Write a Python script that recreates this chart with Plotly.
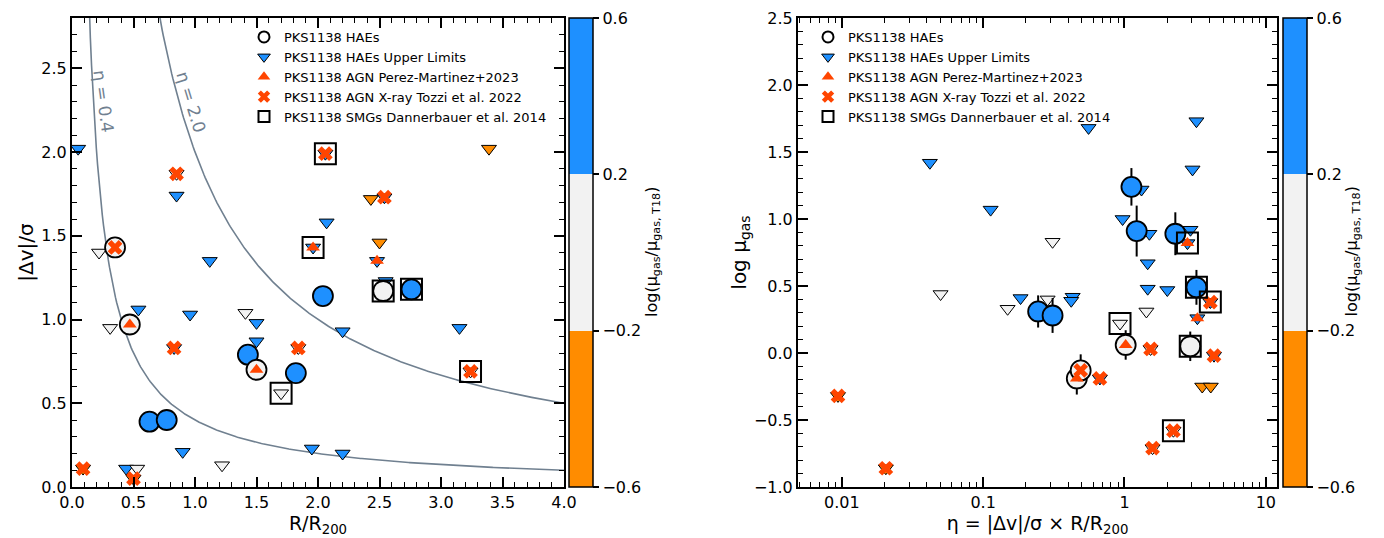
import numpy as np
import plotly.graph_objects as go

# ---------------- data: left panel (R/R200 vs |dv|/sigma) ----------------
ul_R = [0.05, 0.85, 0.54, 1.12, 0.96, 1.50, 1.50, 0.90, 0.44, 2.07, 2.20, 1.95, 2.20, 3.15, 2.55,
        1.96, 2.48, 2.54, 2.06, 0.83,
        0.22, 0.31, 1.41, 1.22, 0.53, 1.70, 1.84, 0.85, 3.24,
        3.39, 2.43, 2.50, 0.09, 0.50]
ul_dv = [2.02, 1.74, 1.06, 1.35, 1.03, 0.98, 0.87, 0.21, 0.11, 1.58, 0.93, 0.23, 0.20, 0.95, 1.23,
         1.43, 1.35, 1.73, 1.99, 0.83,
         1.40, 0.95, 1.04, 0.13, 0.11, 0.56, 0.83, 1.87, 0.69,
         2.02, 1.72, 1.46, 0.11, 0.05]
ul_ratio = [0.4] * 20 + [0.0] * 9 + [-0.4] * 5

hae_R = [0.35, 0.47, 0.63, 0.77, 1.43, 1.50, 1.82, 2.04, 2.53, 2.76]
hae_dv = [1.43, 0.97, 0.39, 0.40, 0.79, 0.70, 0.68, 1.14, 1.17, 1.18]
hae_ratio = [0.0, 0.0, 0.4, 0.4, 0.4, 0.0, 0.4, 0.4, 0.0, 0.4]

pm_R = [0.47, 1.50, 1.96, 2.48]
pm_dv = [0.97, 0.70, 1.43, 1.35]

xr_R = [0.35, 0.85, 0.83, 1.84, 2.06, 2.54, 3.24, 0.09, 0.50]
xr_dv = [1.43, 1.87, 0.83, 0.83, 1.99, 1.73, 0.69, 0.11, 0.05]

smg_R = [1.70, 1.96, 2.76, 3.24, 2.53, 2.06]
smg_dv = [0.56, 1.43, 1.18, 0.69, 1.17, 1.99]

eta_levels = [0.4, 2.0]

# ---------------- data: right panel (eta vs log mu_gas) ----------------
r_ul_eta = [0.042, 0.113, 0.557, 3.23, 3.03, 1.32, 0.97, 1.50, 2.93, 2.79, 1.46, 1.46, 2.01, 4.05,
            3.28, 0.184, 0.43, 0.42, 4.30, 0.67,
            0.050, 0.149, 0.31, 0.286, 1.43, 0.93, 1.53, 1.58, 2.22,
            0.0094, 0.0205, 3.55, 4.08]
r_ul_mu = [1.42, 1.07, 1.68, 1.73, 1.37, 1.22, 1.00, 0.89, 0.92, 0.82, 0.67, 0.48, 0.47, 0.38,
           0.26, 0.41, 0.42, 0.39, -0.02, -0.19,
           0.44, 0.33, 0.83, 0.40, 0.31, 0.22, 0.03, -0.71, -0.58,
           -0.32, -0.86, -0.25, -0.25]
r_ul_ratio = [0.4] * 20 + [0.0] * 9 + [-0.4] * 4

r_hae_eta = [1.12, 1.22, 2.29, 3.23, 0.245, 0.31, 1.02, 2.92, 0.46, 0.49]
r_hae_mu = [1.24, 0.91, 0.89, 0.49, 0.31, 0.28, 0.06, 0.05, -0.19, -0.13]
r_hae_err = [0.14, 0.19, 0.16, 0.13, 0.12, 0.13, 0.11, 0.11, 0.12, 0.12]
r_hae_ratio = [0.4, 0.4, 0.4, 0.4, 0.4, 0.4, 0.0, 0.0, 0.0, 0.0]

r_pm_eta = [1.02, 0.46, 2.79, 3.28]
r_pm_mu = [0.06, -0.19, 0.82, 0.26]

r_xr_eta = [0.49, 0.67, 1.53, 4.30, 4.05, 2.22, 1.58, 0.0094, 0.0205]
r_xr_mu = [-0.13, -0.19, 0.03, -0.02, 0.38, -0.58, -0.71, -0.32, -0.86]

r_smg_eta = [0.93, 2.79, 3.23, 4.05, 2.92, 2.22]
r_smg_mu = [0.22, 0.82, 0.49, 0.38, 0.05, -0.58]

cbar_ticks = [-0.6, -0.2, 0.2, 0.6]

legend_names = ["PKS1138 HAEs", "PKS1138 HAEs Upper Limits", "PKS1138 AGN Perez-Martinez+2023",
                "PKS1138 AGN X-ray Tozzi et al. 2022", "PKS1138 SMGs Dannerbauer et al. 2014"]

# ---------------- style / geometry ----------------
BLUE = "#1E90FF"
GREY = "#F2F2F2"
ORANGE = "#FF8C00"
RED = "#FF4500"
SLATE = "#708090"
FONT = "DejaVu Sans"
OFF = 8                      # page body margin of the browser
W, H = 1384 - OFF, 538 - OFF
ML = 72 - OFF                # plot-area edges expressed in window pixels minus the offset
MT = 18 - OFF
MB = H - (487 - OFF)
MR = W - (1277 - OFF)
IW, IH = W - ML - MR, H - MT - MB


def px_x(p):
    return (p - OFF - ML) / IW


def px_y(p):
    return (H - MB - (p - OFF)) / IH


cscale = [[0, ORANGE], [1 / 3, ORANGE], [1 / 3, GREY], [2 / 3, GREY], [2 / 3, BLUE], [1, BLUE]]

fig = go.Figure()


def add_panel(xa, ya, coloraxis, legend, ulx, uly, ulc, cx, cy, cc, pmx, pmy, xx, xy, sx, sy, err=None):
    fig.add_trace(go.Scatter(x=ulx, y=uly, mode="markers", xaxis=xa, yaxis=ya, showlegend=False,
                             marker=dict(symbol="triangle-down", size=13, color=ulc, coloraxis=coloraxis,
                                         line=dict(color="black", width=1))))
    ey = None
    if err is not None:
        ey = dict(type="data", array=err, color="black", thickness=2, width=0)
    fig.add_trace(go.Scatter(x=cx, y=cy, mode="markers", xaxis=xa, yaxis=ya, showlegend=False,
                             error_y=ey,
                             marker=dict(symbol="circle", size=20, color=cc, coloraxis=coloraxis,
                                         line=dict(color="black", width=1.8))))
    fig.add_trace(go.Scatter(x=pmx, y=pmy, mode="markers", xaxis=xa, yaxis=ya, showlegend=False,
                             marker=dict(symbol="triangle-up", size=12, color=RED, line=dict(width=0))))
    fig.add_trace(go.Scatter(x=xx, y=xy, mode="markers", xaxis=xa, yaxis=ya, showlegend=False,
                             marker=dict(symbol="x", size=13, color=RED, line=dict(width=0))))
    fig.add_trace(go.Scatter(x=sx, y=sy, mode="markers", xaxis=xa, yaxis=ya, showlegend=False,
                             marker=dict(symbol="square-open", size=21, color="black",
                                         line=dict(color="black", width=2))))
    specs = [
        dict(symbol="circle-open", size=11, color="black", line=dict(color="black", width=2)),
        dict(symbol="triangle-down", size=11, color=BLUE, line=dict(color="black", width=1)),
        dict(symbol="triangle-up", size=11, color=RED, line=dict(width=0)),
        dict(symbol="x", size=11, color=RED, line=dict(width=0)),
        dict(symbol="square-open", size=11, color="black", line=dict(color="black", width=2)),
    ]
    for name, mk in zip(legend_names, specs):
        fig.add_trace(go.Scatter(x=[None], y=[None], mode="markers", xaxis=xa, yaxis=ya, name=name,
                                 marker=mk, showlegend=True, legend=legend))


Rgrid = np.linspace(0.12, 4.0, 400)
for lev in eta_levels:
    fig.add_trace(go.Scatter(x=Rgrid, y=lev / Rgrid, mode="lines", xaxis="x", yaxis="y", showlegend=False,
                             line=dict(color=SLATE, width=1.6), hoverinfo="skip"))

add_panel("x", "y", "coloraxis", "legend", ul_R, ul_dv, ul_ratio, hae_R, hae_dv, hae_ratio,
          pm_R, pm_dv, xr_R, xr_dv, smg_R, smg_dv)
add_panel("x2", "y2", "coloraxis2", "legend2", r_ul_eta, r_ul_mu, r_ul_ratio, r_hae_eta, r_hae_mu,
          r_hae_ratio, r_pm_eta, r_pm_mu, r_xr_eta, r_xr_mu, r_smg_eta, r_smg_mu, err=r_hae_err)

# invisible traces to activate the mirror (top/right) tick axes
fig.add_trace(go.Scatter(x=[None], y=[None], xaxis="x3", yaxis="y3", showlegend=False))
fig.add_trace(go.Scatter(x=[None], y=[None], xaxis="x4", yaxis="y4", showlegend=False))

dom_l = [0, px_x(564)]
dom_r = [px_x(798), 1]

tickfont = dict(family=FONT, size=16, color="black")
axis_common = dict(showline=True, linecolor="black", linewidth=2, mirror=True, ticks="inside",
                   ticklen=10, tickwidth=1.5, tickcolor="black", showgrid=False, zeroline=False,
                   tickfont=tickfont)
mirror_common = dict(showline=False, ticks="inside", ticklen=10, tickwidth=1.5, tickcolor="black",
                     showgrid=False, zeroline=False, showticklabels=False)
minor_lin = dict(ticks="inside", ticklen=5, tickwidth=1.2, tickcolor="black", showgrid=False)

minor_log = [m * 10.0 ** e for e in range(-3, 2) for m in range(2, 10)]
xr_log = [np.log10(0.0049), np.log10(12.0)]

cb_common = dict(xanchor="left", xpad=0, ypad=0, y=0, yanchor="bottom", len=1, lenmode="fraction",
                 thickness=24, thicknessmode="pixels", outlinewidth=1.5, outlinecolor="black",
                 tickvals=cbar_ticks, tickformat=".1f", ticks="outside", ticklen=6, tickwidth=1.5,
                 tickcolor="black", tickfont=tickfont)

fig.update_layout(
    width=W, height=H, margin=dict(l=ML, r=MR, t=MT, b=MB, autoexpand=False),
    plot_bgcolor="white", paper_bgcolor="white",
    font=dict(family=FONT, color="black"),
    xaxis=dict(domain=dom_l, range=[0, 4.0], dtick=0.5, tick0=0, tickformat=".1f",
               minor=dict(dtick=0.1, **minor_lin),
               title=dict(text="R/R<sub>200</sub>", font=dict(size=19), standoff=0), anchor="y",
               **axis_common),
    yaxis=dict(domain=[0, 1], range=[0, 2.8], dtick=0.5, tick0=0, tickformat=".1f",
               minor=dict(dtick=0.1, **minor_lin),
               title=dict(text="|Δv|/σ", font=dict(size=20), standoff=2), anchor="x",
               **axis_common),
    xaxis3=dict(domain=dom_l, range=[0, 4.0], dtick=0.5, tick0=0, overlaying="x", side="top", anchor="y3",
                minor=dict(dtick=0.1, **minor_lin), **mirror_common),
    yaxis3=dict(domain=[0, 1], range=[0, 2.8], dtick=0.5, tick0=0, overlaying="y", side="right", anchor="x3",
                minor=dict(dtick=0.1, **minor_lin), **mirror_common),
    xaxis2=dict(domain=dom_r, type="log", range=xr_log,
                tickvals=[0.01, 0.1, 1, 10], ticktext=["0.01", "0.1", "1", "10"],
                minor=dict(tickmode="array", tickvals=minor_log, **minor_lin),
                title=dict(text="η = |Δv|/σ × R/R<sub>200</sub>", font=dict(size=19), standoff=0),
                anchor="y2", **axis_common),
    yaxis2=dict(domain=[0, 1], range=[-1.0, 2.5], dtick=0.5, tick0=0, tickformat=".1f",
                minor=dict(dtick=0.1, **minor_lin),
                title=dict(text="log μ<sub>gas</sub>", font=dict(size=20), standoff=2), anchor="x2",
                **axis_common),
    xaxis4=dict(domain=dom_r, type="log", range=xr_log, tickvals=[0.01, 0.1, 1, 10], overlaying="x2",
                side="top", anchor="y4",
                minor=dict(tickmode="array", tickvals=minor_log, **minor_lin), **mirror_common),
    yaxis4=dict(domain=[0, 1], range=[-1.0, 2.5], dtick=0.5, tick0=0, overlaying="y2", side="right",
                anchor="x4", minor=dict(dtick=0.1, **minor_lin), **mirror_common),
    coloraxis=dict(colorscale=cscale, cmin=-0.6, cmax=0.6, colorbar=dict(x=px_x(569), **cb_common)),
    coloraxis2=dict(colorscale=cscale, cmin=-0.6, cmax=0.6, colorbar=dict(x=px_x(1283), **cb_common)),
    legend=dict(x=px_x(244), y=px_y(22), xanchor="left", yanchor="top", bgcolor="rgba(0,0,0,0)",
                font=dict(family=FONT, size=13, color="black"), tracegroupgap=0, itemwidth=30),
    legend2=dict(x=px_x(808), y=px_y(22), xanchor="left", yanchor="top", bgcolor="rgba(0,0,0,0)",
                 font=dict(family=FONT, size=13, color="black"), tracegroupgap=0, itemwidth=30),
)

# eta curve labels
fig.add_annotation(x=0.26, y=2.30, xref="x", yref="y", text="η = 0.4", showarrow=False, textangle=82,
                   font=dict(family=FONT, size=17, color=SLATE))
fig.add_annotation(x=0.97, y=2.30, xref="x", yref="y", text="η = 2.0", showarrow=False, textangle=73,
                   font=dict(family=FONT, size=17, color=SLATE))

# colorbar titles
cb_title = "log(μ<sub>gas</sub>/μ<sub>gas, T18</sub>)"
for xp in (652, 1364):
    fig.add_annotation(x=px_x(xp), y=px_y(252), xref="paper", yref="paper", text=cb_title, showarrow=False,
                       textangle=-90, font=dict(family=FONT, size=16, color="black"))

fig.write_html("out.html")
